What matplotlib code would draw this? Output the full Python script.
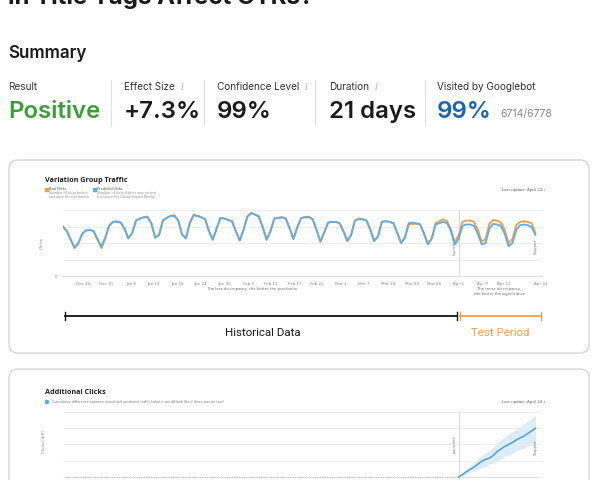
import matplotlib
matplotlib.use('Agg')
import matplotlib.pyplot as plt
from matplotlib.patches import FancyBboxPatch, Rectangle
import matplotlib.transforms as mtrans

# ---------------- data ----------------
page_title = "in Title Tags Affect CTRs?"
section_title = "Summary"
metric_labels = ["Result", "Effect Size", "Confidence Level", "Duration", "Visited by Googlebot"]
metric_values = ["Positive", "+7.3%", "99%", "21 days", "99%"]
metric_info = [False, True, True, True, False]
googlebot_detail = "6714/6778"

chart1_title = "Variation Group Traffic"
real_label = "Real Clicks"
real_desc = ["Number of clicks before", "and after the test launch"]
pred_label = "Predicted Clicks"
pred_desc = ["Number of clicks if there was no test", "(calculated by Causal Impact Model)"]
last_update = "Last update: April 24"

# daily clicks (relative units), day 0 = Dec 20
predicted_clicks = [75, 68, 55, 43, 50, 64, 69, 70, 68, 56,
                    44, 58, 76, 82, 82, 81, 72, 57, 65, 84,
                    87, 89, 89, 80, 58, 62, 84, 88, 91, 91,
                    84, 63, 57, 80, 92, 91, 89, 86, 68, 55,
                    72, 88, 87, 85, 83, 68, 54, 70, 90, 95,
                    93, 90, 74, 55, 68, 87, 88, 89, 87, 72,
                    56, 74, 88, 89, 89, 86, 70, 52, 66, 81,
                    82, 82, 80, 68, 53, 62, 84, 86, 86, 84,
                    70, 53, 60, 82, 83, 82, 80, 66, 50, 58,
                    80, 81, 80, 78, 64, 48, 57, 78, 80, 82,
                    80, 68, 48, 56, 76, 78, 78, 76, 64, 48,
                    50, 72, 79, 78, 76, 64, 45, 50, 70, 77,
                    78, 77, 74, 62]
real_clicks = [75, 68, 55, 42, 50, 64, 69, 70, 67, 55,
               42, 57, 76, 82, 83, 81, 72, 57, 65, 84,
               87, 89, 90, 80, 58, 62, 84, 88, 91, 92,
               84, 63, 57, 80, 93, 91, 89, 86, 68, 55,
               72, 88, 87, 85, 83, 68, 54, 70, 90, 96,
               93, 90, 74, 55, 68, 87, 88, 89, 87, 72,
               56, 74, 88, 89, 90, 86, 70, 52, 66, 81,
               82, 82, 80, 68, 53, 62, 84, 87, 86, 84,
               70, 53, 60, 82, 83, 82, 80, 66, 50, 58,
               78, 79, 79, 78, 64, 48, 57, 80, 83, 86,
               83, 70, 51, 62, 82, 84, 84, 82, 70, 52,
               56, 79, 85, 84, 81, 70, 50, 56, 77, 82,
               83, 82, 80, 65]
tick_days = [5.2, 11.2, 17.7, 23.7, 29.9, 35.9, 42.2, 48.2, 54.2, 60.4,
             66.1, 72.4, 78.4, 84.6, 90.9, 96.6, 102.9, 109.1, 114.8, 124.5]
tick_labels = ["Dec 25", "Dec 31", "Jan 6", "Jan 12", "Jan 18", "Jan 24", "Jan 30",
               "Feb 5", "Feb 11", "Feb 17", "Feb 23", "Mar 1", "Mar 7", "Mar 14",
               "Mar 20", "Mar 26", "Apr 1", "Apr 7", "Apr 12", "Apr 22"]
launch_day = 103
stop_day = 124
hist_label = "Historical Data"
test_label = "Test Period"

chart2_title = "Additional Clicks"
chart2_desc = "Cumulative difference between actual and predicted traffic (what it would look like if there was no test)"
cum_days = list(range(103, 124))
cum_clicks = [0, 4, 8, 12, 15, 20, 24, 27, 29, 33, 39, 43, 47, 50, 53, 57, 60, 63, 67, 71, 75]
cum_upper = [0, 6, 11, 17, 22, 28, 33, 37, 41, 46, 52, 57, 62, 66, 70, 74, 78, 82, 86, 90, 95]
cum_lower = [0, 2, 5, 7, 9, 12, 15, 17, 19, 21, 25, 28, 32, 34, 37, 40, 42, 44, 47, 49, 52]

# ---------------- style ----------------
W, H = 600, 480
GREEN = '#3c9e37'
BLUE_TXT = '#1565b8'
ORANGE = '#f0a04b'
BLUE = '#62aee2'
DARK = '#1b1b1b'
FS = 0.72  # px -> pt

fig = plt.figure(figsize=(6, 4.8), dpi=100)
fig.patch.set_facecolor('white')
bg = fig.add_axes([0, 0, 1, 1])
bg.set_xlim(0, W)
bg.set_ylim(H, 0)
bg.axis('off')


def px_axes(x0, y0, x1, y1):
    return fig.add_axes([x0 / W, 1 - y1 / H, (x1 - x0) / W, (y1 - y0) / H])


SANS = ['Inter', 'DejaVu Sans']

# page title (cut off at top) and summary
bg.text(8, 4, page_title, fontsize=24 * FS, fontweight='bold', color=DARK,
        family=SANS, va='baseline', ha='left')
bg.text(8, 53, section_title, fontsize=17 * FS, fontweight='semibold', color=DARK,
        family=SANS, va='center', ha='left')

metric_x = [8, 124, 217, 329, 437]
divider_x = [111, 204, 315, 425]
value_colors = [GREEN, DARK, DARK, DARK, BLUE_TXT]
for i, (lab, val) in enumerate(zip(metric_labels, metric_values)):
    t = bg.text(metric_x[i], 87, lab, fontsize=10 * FS, color='#333333', family=SANS,
                va='center', ha='left')
    if metric_info[i]:
        bg.annotate('i', xy=(1, 0.5), xycoords=t, xytext=(4, 0), textcoords='offset points',
                    fontsize=9 * FS, color='#b5b5b5', style='italic', family='DejaVu Serif',
                    va='center', ha='left')
    v = bg.text(metric_x[i], 112, val, fontsize=24 * FS, fontweight='semibold',
                color=value_colors[i], family=SANS, va='center', ha='left')
    if i == 4:
        bg.annotate(googlebot_detail, xy=(1, 0.2), xycoords=v, xytext=(6, 0),
                    textcoords='offset points', fontsize=10.5 * FS, color='#8a8a8a',
                    family=SANS, va='bottom', ha='left')
for dx in divider_x:
    bg.plot([dx, dx], [80, 125], color='#e2e2e2', lw=0.8)

# cards
for (y0, y1) in [(160, 353), (369, 560)]:
    bg.add_patch(FancyBboxPatch((9, y0), 580, y1 - y0,
                                boxstyle="round,pad=0,rounding_size=9",
                                facecolor='white', edgecolor='#d6d6d6', lw=1.0))

TINY = 3.0
LEG = 2.5
CH = ['Open Sans', 'DejaVu Sans']

# ---------------- chart 1 ----------------
bg.text(45, 181, chart1_title, fontsize=5.2, fontweight='bold', color='#222222',
        family=CH, va='center')
bg.add_patch(Rectangle((44.5, 187.5), 3, 3, color=ORANGE))
bg.text(49, 189, real_label, fontsize=LEG, color='#333333', family=CH, va='center')
bg.text(49, 193, real_desc[0], fontsize=LEG, color='#888888', family=CH, va='center')
bg.text(49, 197, real_desc[1], fontsize=LEG, color='#888888', family=CH, va='center')
bg.add_patch(Rectangle((92.5, 187.5), 3, 3, color=BLUE))
bg.text(97, 189, pred_label, fontsize=LEG, color='#333333', family=CH, va='center')
bg.text(97, 193, pred_desc[0], fontsize=LEG, color='#888888', family=CH, va='center')
bg.text(97, 197, pred_desc[1], fontsize=LEG, color='#888888', family=CH, va='center')
bg.text(545, 190, last_update + "  i", fontsize=TINY, color='#555555', family=CH,
        va='center', ha='right')

ax1 = px_axes(63, 210, 542, 276)
days = list(range(len(predicted_clicks)))
ax1.plot(days, real_clicks, color=ORANGE, lw=1.35, solid_joinstyle='round',
         solid_capstyle='round', zorder=3)
ax1.plot(days, predicted_clicks, color=BLUE, lw=1.35, solid_joinstyle='round',
         solid_capstyle='round', zorder=4)
ax1.set_xlim(0, 124.7)
ax1.set_ylim(0, 100)
ax1.set_yticks([0, 25, 50, 75, 100])
ax1.set_yticklabels(['0', '', '', '', ''])
ax1.set_xticks(tick_days)
ax1.set_xticklabels(tick_labels)
ax1.tick_params(axis='both', length=0, labelsize=TINY, labelcolor='#888888', pad=4)
ax1.grid(axis='y', color='#ededed', lw=0.6)
for s in ax1.spines.values():
    s.set_visible(False)
ax1.spines['bottom'].set_visible(True)
ax1.spines['bottom'].set_color('#dddddd')
ax1.spines['bottom'].set_linewidth(0.6)
ax1.axvline(launch_day, color='#d8d8d8', lw=0.7)
ax1.axvline(stop_day + 0.6, color='#e2e2e2', lw=0.7)
ax1.text(launch_day - 0.5, 45, 'Launched', rotation=90, fontsize=2.6, color='#777777',
         ha='right', va='center')
ax1.text(stop_day - 0.3, 45, 'Stopped', rotation=90, fontsize=2.6, color='#777777',
         ha='right', va='center')
ax1.set_ylabel('Clicks', fontsize=TINY, color='#888888', labelpad=8)
ax1.set_facecolor('none')

bg.text(297, 289, "The less discrepancy, the better the prediction", fontsize=TINY,
        color='#666666', family=CH, ha='right', va='center')
bg.text(499, 289, "The more discrepancy,", fontsize=TINY, color='#666666', family=CH,
        ha='center', va='center')
bg.text(499, 294, "the better the significance", fontsize=TINY, color='#666666', family=CH,
        ha='center', va='center')

# period bracket (x in chart data coordinates)
tr = mtrans.blended_transform_factory(ax1.transData, bg.transData)
yb = 316
bg.plot([0.5, launch_day - 0.3], [yb, yb], color='#111111', lw=1.3, transform=tr, clip_on=False)
for xd in [0.5, launch_day - 0.3]:
    bg.plot([xd, xd], [yb - 4, yb + 4], color='#111111', lw=1.0, transform=tr, clip_on=False)
bg.plot([launch_day + 0.4, 124.5], [yb, yb], color=ORANGE, lw=1.3, transform=tr, clip_on=False)
for xd in [launch_day + 0.4, 124.5]:
    bg.plot([xd, xd], [yb - 4, yb + 4], color=ORANGE, lw=1.0, transform=tr, clip_on=False)
bg.text(52, 333, hist_label, fontsize=11.5 * FS, color='#1b1b1b', family=['Roboto', 'DejaVu Sans'],
        ha='center', va='center', transform=tr)
bg.text(113.8, 333, test_label, fontsize=11.5 * FS, color=ORANGE, family=['Roboto', 'DejaVu Sans'],
        ha='center', va='center', transform=tr)

# ---------------- chart 2 ----------------
bg.text(45, 393, chart2_title, fontsize=5.2, fontweight='bold', color='#222222',
        family=CH, va='center')
bg.add_patch(plt.Circle((47, 402), 1.6, color=BLUE))
bg.text(52, 402, chart2_desc, fontsize=2.6, color='#777777', family=CH, va='center')
bg.text(545, 402, last_update + "  i", fontsize=TINY, color='#555555', family=CH,
        va='center', ha='right')

ax2 = px_axes(63, 412, 542, 490)
ax2.set_xlim(0, 124.7)
ax2.set_ylim(-20, 100)
ax2.fill_between(cum_days, cum_lower, cum_upper, color=BLUE, alpha=0.22, lw=0)
ax2.plot(cum_days, cum_clicks, color='#4f9fd6', lw=1.1, zorder=4)
ax2.hlines(0, 0.5, launch_day, colors='#b8b8b8', linestyles=(0, (1, 1.2)), lw=0.8)
ax2.hlines(0, launch_day, stop_day, colors='#dddddd', lw=0.6)
ax2.set_yticks([0, 25, 50, 75, 100])
ax2.set_yticklabels([])
ax2.set_xticks([])
ax2.tick_params(length=0)
ax2.grid(axis='y', color='#ededed', lw=0.6)
for s in ax2.spines.values():
    s.set_visible(False)
ax2.axvline(launch_day, color='#d8d8d8', lw=0.7)
ax2.axvline(stop_day + 0.6, color='#e2e2e2', lw=0.7)
ax2.text(launch_day - 0.5, 50, 'Launched', rotation=90, fontsize=2.6, color='#777777',
         ha='right', va='center')
ax2.text(stop_day - 0.3, 45, 'Stopped', rotation=90, fontsize=2.6, color='#777777',
         ha='right', va='center')
ax2.set_ylabel('Clicks (diff)', fontsize=TINY, color='#888888', labelpad=14)
ax2.yaxis.set_label_coords(-0.036, 0.62)
ax2.set_facecolor('none')

fig.savefig('out.png', dpi=100, facecolor='white')
